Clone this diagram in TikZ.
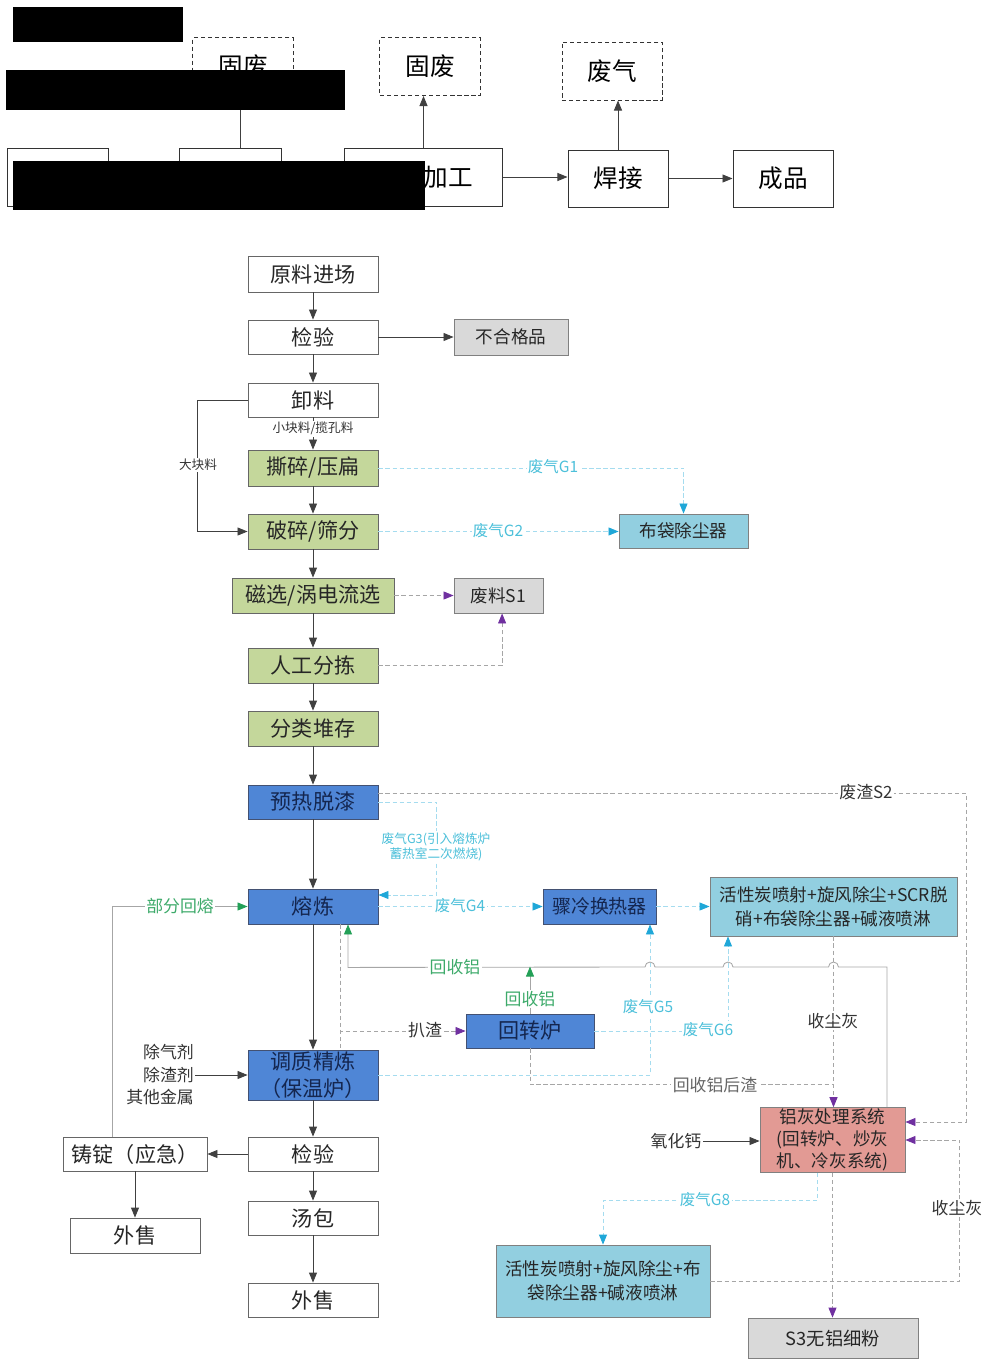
\documentclass[tikz,border=0pt]{standalone}
\usepackage{fontspec}
\setmainfont{Noto Sans CJK SC}
\usetikzlibrary{arrows.meta,positioning,calc}

\definecolor{boxgreen}{HTML}{C4D79B}
\definecolor{boxblue}{HTML}{4F86D6}
\definecolor{boxcyan}{HTML}{92CFE0}
\definecolor{boxgray}{HTML}{D9D9D9}
\definecolor{boxred}{HTML}{E29A94}
\definecolor{navy}{HTML}{14264F}
\definecolor{gascol}{HTML}{1FA7D8}
\definecolor{gastext}{HTML}{4CC0DA}
\definecolor{alcol}{HTML}{23A057}
\definecolor{altext}{HTML}{3DAA6A}
\definecolor{slagcol}{HTML}{7030A0}

\tikzset{
  procbox/.style={draw=black!60, line width=0.6pt, minimum width=3.25cm, minimum height=0.85cm,
    inner sep=1pt, align=center, text=black!85, font=\fontsize{15pt}{18pt}\selectfont},
  greenbox/.style={procbox, fill=boxgreen},
  bluebox/.style={procbox, fill=boxblue, draw=navy!80, text=navy},
  cleanbox/.style={procbox, fill=boxcyan, draw=black!50, font=\fontsize{12.5pt}{17pt}\selectfont},
  graybox/.style={procbox, fill=boxgray, draw=black!50, font=\fontsize{12.5pt}{15pt}\selectfont},
  ashbox/.style={procbox, fill=boxred, draw=black!50, font=\fontsize{12.5pt}{15.5pt}\selectfont},
  topbox/.style={draw=black!80, line width=0.7pt, minimum width=2.5cm, minimum height=1.45cm,
    inner sep=1pt, font=\fontsize{17.5pt}{20pt}\selectfont},
  wastebox/.style={topbox, dash pattern=on 3pt off 2pt},
  flow/.style={draw=black!75, line width=0.6pt, -{Triangle[length=0.25cm,width=0.2cm]}},
  gasflow/.style={draw=gascol!40, line width=0.6pt, dash pattern=on 3pt off 2pt,
    -{Triangle[length=0.25cm,width=0.2cm,color=gascol]}},
  slagflow/.style={draw=black!35, line width=0.6pt, dash pattern=on 3pt off 2pt,
    -{Triangle[length=0.25cm,width=0.2cm,color=slagcol]}},
  alflow/.style={draw=black!35, line width=0.6pt, -{Triangle[length=0.25cm,width=0.2cm,color=alcol]}},
  tag/.style={fill=white, inner sep=1pt, text=black!80, font=\fontsize{12pt}{15pt}\selectfont},
  gastag/.style={tag, text=gastext, font=\fontsize{11pt}{14pt}\selectfont},
  altag/.style={tag, text=altext},
  smalltag/.style={tag, font=\fontsize{9pt}{11pt}\selectfont}
}

\begin{document}
\begin{tikzpicture}[x=0.025cm, y=-0.025cm]
\useasboundingbox (0,0) rectangle (987,1361);

% upper process
\node[topbox] (cut1) at (58,177) {};
\node[topbox, minimum width=2.525cm] (cut2) at (230.5,177) {};
\node[topbox, minimum width=3.925cm] (machining) at (423.5,177) {\hphantom{机械}加工};
\node[topbox, minimum height=1.425cm] (weld) at (618,178.5) {焊接};
\node[topbox, minimum height=1.425cm] (product) at (783,178.5) {成品};
\node[wastebox] (solid1) at (243,66.5) {固废};
\node[wastebox] (solid2) at (430,66.5) {固废};
\node[wastebox] (fume) at (612,71) {废气};
\draw[flow] ([xshift=0.26cm]cut2.north) -- ([xshift=0.26cm]cut2.north |- solid1.south);
\draw[flow] (machining.north) -- (machining.north |- solid2.south);
\draw[flow] (weld.north) -- (weld.north |- fume.south);
\draw[flow] (machining.east) -- (machining.east -| weld.west);
\draw[flow] (weld) -- (product);
\fill[black] (13,7) rectangle (183,42);
\fill[black] (6,70) rectangle (345,110);
\fill[black] (13,161) rectangle (425,210);

% pretreatment
\node[procbox, minimum height=0.9cm] (feed) at (313,274) {原料进场};
\node[procbox] (check1) at (313,337) {检验};
\node[graybox, minimum width=2.85cm, minimum height=0.9cm] (reject) at (511,337) {不合格品};
\node[procbox] (unload) at (313,400) {卸料};
\node[greenbox, minimum height=0.9cm] (shred) at (313,468) {撕碎/压扁};
\node[greenbox, minimum height=0.875cm] (crush) at (313,531.5) {破碎/筛分};
\node[cleanbox, minimum width=3.225cm] (bag) at (683.5,531) {布袋除尘器};
\node[greenbox, minimum width=4.05cm, minimum height=0.875cm] (magsep) at (313,595.5) {磁选/涡电流选};
\node[graybox, minimum width=2.225cm, minimum height=0.875cm] (scrap) at (498.5,595.5) {废料S1};
\node[greenbox, minimum height=0.875cm] (sort) at (313,665.5) {人工分拣};
\node[greenbox, minimum height=0.875cm] (stock) at (313,728.5) {分类堆存};

\draw[flow] (feed) -- (check1);
\draw[flow] (check1) -- (reject);
\draw[flow] (check1) -- (unload);
\draw[flow] (unload) -- (shred) node[smalltag, pos=0.35] {小块料/揽孔料};
\draw[flow] (unload.west) -- ++(-50,0) |- (crush.west);
\node[smalltag] (bigtag) at (198,465) {大块料};
\draw[flow] (shred) -- (crush);
\draw[flow] (crush) -- (magsep);
\draw[flow] (magsep) -- (sort);
\draw[flow] (sort) -- (stock);
\draw[gasflow] (shred.east) -| (bag.north);
\node[gastag] (g1tag) at (553,467) {废气G1};
\draw[gasflow] (crush.east) -- (crush.east -| bag.west);
\node[gastag] (g2tag) at (498,531) {废气G2};
\draw[slagflow] (magsep.east) -- (scrap.west);
\draw[slagflow] (sort.east) -| ([xshift=0.09cm]scrap.south);

% smelting
\node[bluebox] (preheat) at (313,802) {预热脱漆};
\node[bluebox, minimum height=0.875cm] (melt) at (313,906.5) {熔炼};
\node[bluebox, minimum width=2.825cm, minimum height=0.875cm, font=\fontsize{13.5pt}{16pt}\selectfont] (quench) at (599.5,906.5) {骤冷换热器};
\node[cleanbox, minimum width=6.175cm, minimum height=1.475cm] (treat1) at (833.5,906.5) {活性炭喷射+旋风除尘+SCR脱\\硝+布袋除尘器+碱液喷淋};
\node[bluebox, minimum width=3.2cm] (rotary) at (530,1031) {回转炉};
\node[bluebox, minimum height=1.25cm, font=\fontsize{15pt}{19pt}\selectfont] (refine) at (313,1075) {调质精炼\\（保温炉）};
\node[ashbox, minimum width=3.625cm, minimum height=1.6cm] (ash) at (832.5,1140) {铝灰处理系统\\(回转炉、炒灰\\机、冷灰系统)};
\node[procbox] (check2) at (313,1154) {检验};
\node[procbox, minimum width=3.6cm] (ingot) at (135,1154) {铸锭（应急）};
\node[procbox, minimum height=0.875cm] (sale1) at (135,1235.5) {外售};
\node[procbox] (ladle) at (313,1218) {汤包};
\node[procbox] (sale2) at (313,1300) {外售};
\node[cleanbox, minimum width=5.35cm, minimum height=1.8cm] (treat2) at (603,1281) {活性炭喷射+旋风除尘+布\\袋除尘器+碱液喷淋};
\node[graybox, minimum width=4.25cm, minimum height=1cm, font=\fontsize{13pt}{15pt}\selectfont] (fines) at (833,1338) {S3无铝细粉};

\draw[flow] (stock) -- (preheat);
\draw[flow] (preheat) -- (melt);
\draw[flow] (melt) -- (refine);
\draw[flow] (refine) -- (check2);
\draw[flow] (check2) -- (ladle);
\draw[flow] (ladle) -- (sale2);
\draw[flow] (check2) -- (ingot);
\draw[flow] (ingot) -- (sale1);

\node[tag, align=right, font=\fontsize{12pt}{16pt}\selectfont] (additive) at (160,1075) {除气剂\\除渣剂\\其他金属};
\draw[flow] (additive.east) -- (refine.west);
\node[tag] (cao) at (676,1141) {氧化钙};
\draw[flow] (cao.east) -- (cao.east -| ash.west);

\draw[alflow] ($(ingot.north)+(-23,0)$) |- (melt.west);
\node[altag] (remelt) at (180,906) {部分回熔};

\draw[gasflow] (preheat.east) -- ++(58,0) |- ($(melt.east)+(0,-11.5)$);
\node[gastag, font=\fontsize{9pt}{11pt}\selectfont, align=center] (g3tag) at (436,847) {废气G3(引入熔炼炉\\蓄热室二次燃烧)};
\draw[gasflow] (melt.east) -- (quench.west);
\node[gastag] (g4tag) at (460,906) {废气G4};
\draw[gasflow] (quench.east) -- (treat1.west);

\draw[slagflow] ($(preheat.east)+(0,-9)$) -- ++(588,0) |- ($(ash.east)+(0,-18)$);
\node[tag] (s2tag) at (866,792) {废渣S2};
\draw[slagflow] (treat2.east) -- ++(249,0) |- (ash.east);
\node[tag] (dust2) at (957,1208) {收尘灰};

\draw[draw=black!35, line width=0.6pt, dash pattern=on 3pt off 2pt] ($(melt.south)+(27,0)$) -- ($(refine.north)+(27,0)$);
\draw[slagflow] ($(melt.south)+(27,0)$) |- (rotary.west);
\node[tag] (raketag) at (425,1030) {扒渣};

\draw[alflow] ($(ash.north)+(54.5,0)$) |- (838.5,967)
  arc[start angle=0, end angle=180, radius=0.125cm] -- (733,967)
  arc[start angle=0, end angle=180, radius=0.125cm] -- (655,967)
  arc[start angle=0, end angle=180, radius=0.125cm] -- ($(melt.south)+(35,43)$) -- ($(melt.south)+(35,0)$);
\node[altag] (al1) at (455,967) {回收铝};
\draw[alflow] (rotary.north) -- ++(0,-47);
\node[altag] (al2) at (530,999) {回收铝};

\draw[gasflow] (refine.east) -| ($(quench.south)+(50.5,0)$);
\node[gastag] (g5tag) at (648,1007) {废气G5};
\draw[gasflow] (rotary.east) -| ($(treat1.south)+(-105.5,0)$);
\node[gastag] (g6tag) at (708,1030) {废气G6};

\draw[slagflow] (treat1.south) -- (treat1.south |- ash.north);
\node[tag] (dust1) at (833,1021) {收尘灰};
\draw[draw=black!35, line width=0.6pt, dash pattern=on 3pt off 2pt] (rotary.south) |- ($(treat1.south |- ash.north)+(0,-23)$);
\node[tag, text=black!60] (residue) at (715,1085) {回收铝后渣};

\draw[gasflow] ($(ash.south)+(-15.5,0)$) -- ++(0,28) -| (treat2.north);
\node[gastag] (g8tag) at (705,1200) {废气G8};
\draw[slagflow] (ash.south) -- (ash.south |- fines.north);
\end{tikzpicture}
\end{document}
